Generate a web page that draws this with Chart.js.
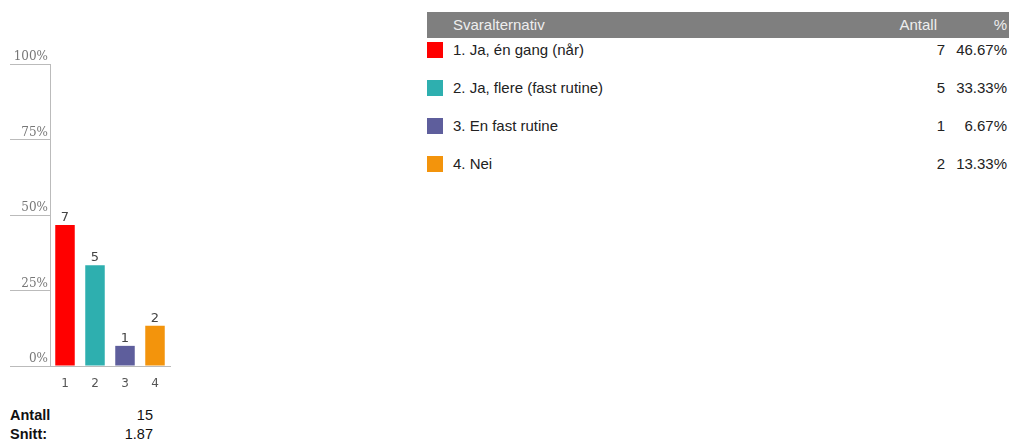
<!DOCTYPE html>
<html>
<head>
<meta charset="utf-8">
<script src="https://cdn.jsdelivr.net/npm/chart.js"></script>
<style>
  body { margin: 0; background: #fff; font-family: "Liberation Sans", Arial, sans-serif; }
  #wrap { position: relative; width: 1009px; height: 443px; overflow: hidden; }
  #chartBox { position: absolute; left: 0; top: 0; width: 200px; height: 400px; }
  .sum { position: absolute; left: 10px; width: 143px; font-size: 14.5px; color: #111; }
  .sum b { float: left; }
  .sum span { float: right; }
  #tbl { position: absolute; left: 427px; top: 12px; width: 582px; font-size: 15px; color: #222; }
  .head { height: 26px; background: #7f7f7f; color: #eee; position: relative; line-height: 26px; }
  .head .c2 { right: 72px; }
  .row { height: 38px; position: relative; line-height: 22px; }
  .c1 { position: absolute; left: 26px; }
  .c2 { position: absolute; right: 64px; text-align: right; }
  .c3 { position: absolute; right: 2px; text-align: right; }
  .sq { position: absolute; left: 0; top: 3px; width: 16px; height: 16px; }
</style>
</head>
<body>
<div id="wrap">
  <div id="chartBox"><canvas id="barChart"></canvas></div>
  <div class="sum" style="top:407px"><b>Antall</b><span id="total"></span></div>
  <div class="sum" style="top:426px"><b>Snitt:</b><span id="avg"></span></div>
  <div id="tbl"></div>
</div>
<script>
//data
const categories = ["1", "2", "3", "4"];
const answerLabels = ["1. Ja, én gang (når)", "2. Ja, flere (fast rutine)", "3. En fast rutine", "4. Nei"];
const counts = [7, 5, 1, 2];
const percents = [46.67, 33.33, 6.67, 13.33];
const barColors = ["#ff0000", "#2eafaf", "#5e5e9c", "#f3940c"];
const yTicks = [0, 25, 50, 75, 100];
const totalCount = 15;
const average = "1.87";

//summary under chart
document.getElementById("total").textContent = totalCount;
document.getElementById("avg").textContent = average;

//table on the right
let html = '<div class="head"><span class="c1">Svaralternativ</span><span class="c2">Antall</span><span class="c3">%</span></div>';
html += '<div style="height:1px"></div>';
for (let i = 0; i < answerLabels.length; i++) {
  html += '<div class="row"><span class="sq" style="background:' + barColors[i] + '"></span>' +
    '<span class="c1">' + answerLabels[i] + '</span>' +
    '<span class="c2">' + counts[i] + '</span>' +
    '<span class="c3">' + percents[i].toFixed(2) + '%</span></div>';
}
document.getElementById("tbl").innerHTML = html;

//count labels above the bars
const countLabels = {
  id: "countLabels",
  afterDatasetsDraw(chart) {
    const ctx = chart.ctx;
    const meta = chart.getDatasetMeta(0);
    ctx.save();
    ctx.font = "13px 'DejaVu Sans'";
    ctx.fillStyle = "#444";
    ctx.textAlign = "center";
    ctx.textBaseline = "bottom";
    meta.data.forEach(function(bar, i) {
      ctx.fillText(counts[i], bar.x, bar.y - 1);
    });
    ctx.restore();
  }
};

new Chart("barChart", {
  type: "bar",
  data: {
    labels: categories,
    datasets: [{
      data: percents,
      backgroundColor: barColors,
      borderWidth: 0,
      categoryPercentage: 1,
      barPercentage: 0.65
    }]
  },
  options: {
    responsive: true,
    maintainAspectRatio: false,
    animation: false,
    events: [],
    layout: {padding: {left: 10, top: 64, right: 30, bottom: 0}},
    plugins: {legend: {display: false}, tooltip: {enabled: false}},
    scales: {
      x: {
        grid: {display: false, drawTicks: false},
        border: {display: true, color: "#bbb", width: 1},
        ticks: {padding: 11, color: "#555", font: {family: "DejaVu Sans", size: 12}},
        afterFit: function(s) { s.height = 34; }
      },
      y: {
        min: 0, max: 100,
        afterBuildTicks: function(s) { s.ticks = yTicks.map(v => ({value: v})); },
        grid: {drawOnChartArea: false, drawTicks: true, tickLength: 40, color: "#bbb"},
        border: {display: true, color: "#bbb", width: 1},
        ticks: {
          padding: -38,
          labelOffset: -7,
          color: "#777",
          font: {family: "DejaVu Serif", size: 12},
          callback: v => v + "%"
        },
        afterFit: function(s) { s.width = 40; }
      }
    }
  },
  plugins: [countLabels]
});
</script>
</body>
</html>
